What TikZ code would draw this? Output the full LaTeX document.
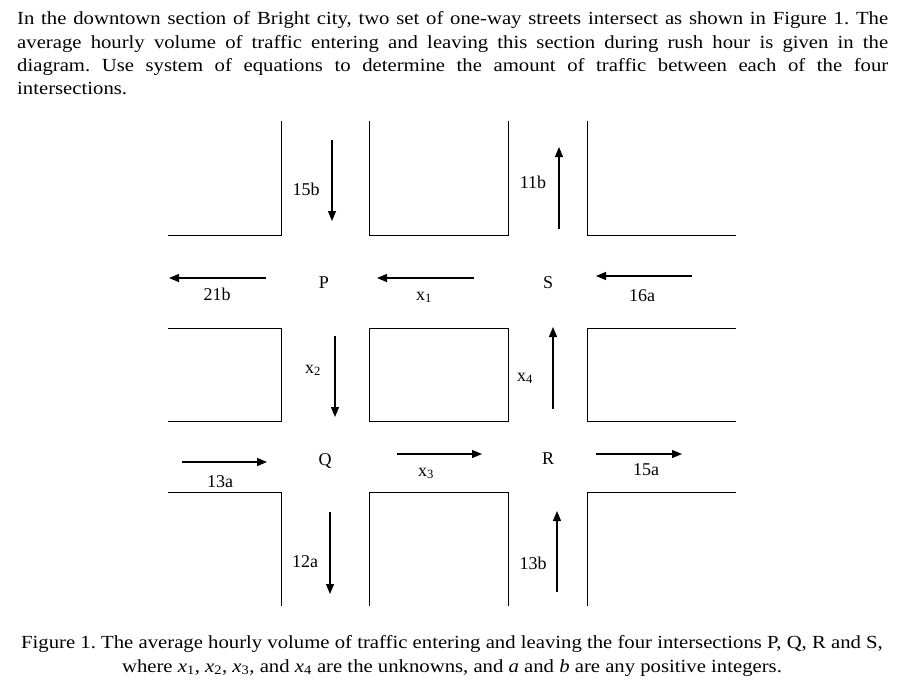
\documentclass[tikz,border=0pt]{standalone}
\usepackage{fontspec}
\setmainfont{Liberation Serif}
\newfontfamily\bodyfont[FakeStretch=1.12]{Liberation Serif}
\usetikzlibrary{arrows.meta}
\frenchspacing
\begin{document}
\begin{tikzpicture}[x=1pt,y=-1pt,
  wall/.style={line width=0.9pt},
  flow/.style={line width=1.2pt,-{Triangle[length=10pt,width=8pt]}},
  lbl/.style={font=\fontsize{18}{20}\selectfont,inner sep=0pt,anchor=base},
  txt/.style={inner sep=0pt,font=\bodyfont\fontsize{18.5}{23.3}\selectfont}]
\useasboundingbox (0,0) rectangle (905,697);

\node[txt,anchor=north west,text width=871pt,align=justify] (para) at (17,11.5)
{In the downtown section of Bright city, two set of one-way streets intersect as shown in Figure 1. The\linebreak
average hourly volume of traffic entering and leaving this section during rush hour is given in the\linebreak
diagram. Use system of equations to determine the amount of traffic between each of the four\linebreak
intersections.};

% blocks
\draw[wall] (168,235) -- (281,235) -- (281,121);
\draw[wall] (369,121) -- (369,235) -- (508,235) -- (508,121);
\draw[wall] (587,121) -- (587,235) -- (736,235);
\draw[wall] (168,328) -- (281,328) -- (281,421) -- (168,421);
\draw[wall] (369,328) rectangle (508,421);
\draw[wall] (736,328) -- (587,328) -- (587,421) -- (736,421);
\draw[wall] (168,492) -- (281,492) -- (281,606);
\draw[wall] (369,606) -- (369,492) -- (508,492) -- (508,606);
\draw[wall] (587,606) -- (587,492) -- (736,492);

% arrow end points
\coordinate (a15s) at (332,140); \coordinate (a15e) at (332,221);
\coordinate (a11s) at (559,229); \coordinate (a11e) at (559,147);
\coordinate (a21s) at (266,278); \coordinate (a21e) at (169,278);
\coordinate (ax1s) at (474,278); \coordinate (ax1e) at (377,278);
\coordinate (a16s) at (692,276); \coordinate (a16e) at (596,276);
\coordinate (ax2s) at (335,336); \coordinate (ax2e) at (335,417);
\coordinate (ax4s) at (553,409); \coordinate (ax4e) at (553,327);
\coordinate (a13as) at (182,462); \coordinate (a13ae) at (267,462);
\coordinate (ax3s) at (397,454); \coordinate (ax3e) at (482,454);
\coordinate (a15as) at (596,454); \coordinate (a15ae) at (682,454);
\coordinate (a12s) at (330,512); \coordinate (a12e) at (330,594);
\coordinate (a13bs) at (557,592); \coordinate (a13be) at (557,511);

\draw[flow] (a15s) -- (a15e);
\draw[flow] (a11s) -- (a11e);
\draw[flow] (a21s) -- (a21e);
\draw[flow] (ax1s) -- (ax1e);
\draw[flow] (a16s) -- (a16e);
\draw[flow] (ax2s) -- (ax2e);
\draw[flow] (ax4s) -- (ax4e);
\draw[flow] (a13as) -- (a13ae);
\draw[flow] (ax3s) -- (ax3e);
\draw[flow] (a15as) -- (a15ae);
\draw[flow] (a12s) -- (a12e);
\draw[flow] (a13bs) -- (a13be);

% labels
\node[lbl] (l15b) at (306,195) {15b};
\node[lbl] (l11b) at (533,188) {11b};
\node[lbl] (l21b) at (217,300) {21b};
\node[lbl] (P) at (324,288) {P};
\node[lbl] (lx1) at (424,300) {x\textsubscript{1}};
\node[lbl] (S) at (548,288) {S};
\node[lbl] (l16a) at (642,301) {16a};
\node[lbl] (lx2) at (313,373) {x\textsubscript{2}};
\node[lbl] (lx4) at (525,381) {x\textsubscript{4}};
\node[lbl] (Q) at (325,465) {Q};
\node[lbl] (R) at (548,464) {R};
\node[lbl] (l13a) at (220,487) {13a};
\node[lbl] (lx3) at (426,476) {x\textsubscript{3}};
\node[lbl] (l15a) at (646,475) {15a};
\node[lbl] (l12a) at (305,567) {12a};
\node[lbl] (l13b) at (533,569) {13b};

\node[txt,anchor=north,align=center] (cap) at (452,635.5)
{Figure 1. The average hourly volume of traffic entering and leaving the four intersections P, Q, R and S,\\
where \textit{x}\textsubscript{1}, \textit{x}\textsubscript{2}, \textit{x}\textsubscript{3}, and \textit{x}\textsubscript{4} are the unknowns, and \textit{a} and \textit{b} are any positive integers.};
\end{tikzpicture}
\end{document}
